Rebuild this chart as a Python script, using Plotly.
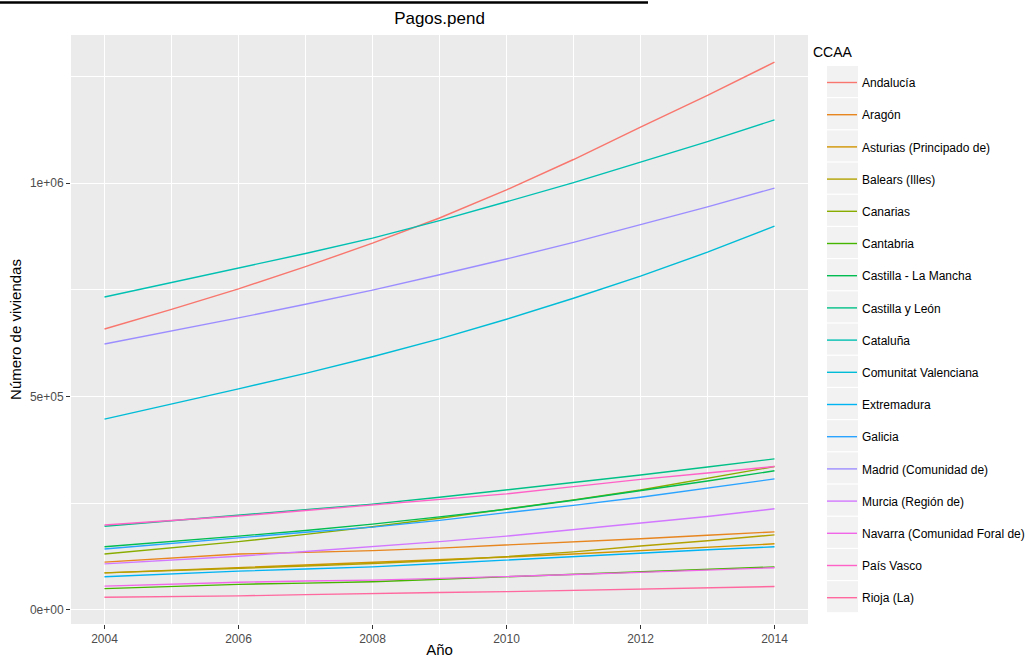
import math
import plotly.graph_objects as go

# Years on the x axis
years = list(range(2004, 2015))

# Outstanding payments (number of dwellings) by autonomous community
andalucia = [658000, 704000, 752000, 804000, 859000, 918000, 984000, 1055000, 1131000, 1205000, 1283000]
aragon = [112000, 122000, 131000, 135000, 139000, 145000, 152000, 159000, 167000, 175000, 183000]
asturias = [87000, 93000, 100000, 105000, 111000, 117000, 124000, 131000, 139000, 147000, 155000]
balears = [87000, 92000, 98000, 103000, 109000, 116000, 125000, 136000, 150000, 162000, 176000]
canarias = [131000, 145000, 160000, 177000, 195000, 215000, 236000, 258000, 281000, 308000, 336000]
cantabria = [50000, 55000, 60000, 63000, 66000, 72000, 78000, 83000, 89000, 95000, 101000]
castilla_la_mancha = [148000, 160000, 173000, 186000, 201000, 218000, 236000, 257000, 279000, 302000, 326000]
castilla_leon = [196000, 209000, 221000, 234000, 248000, 264000, 281000, 298000, 316000, 335000, 354000]
cataluna = [733000, 767000, 801000, 835000, 871000, 912000, 956000, 1001000, 1049000, 1097000, 1148000]
c_valenciana = [447000, 482000, 518000, 554000, 593000, 635000, 681000, 730000, 782000, 838000, 899000]
extremadura = [78000, 85000, 91000, 96000, 101000, 109000, 117000, 125000, 134000, 141000, 148000]
galicia = [143000, 156000, 170000, 182000, 194000, 210000, 228000, 245000, 264000, 285000, 307000]
madrid = [623000, 653000, 684000, 716000, 749000, 785000, 822000, 861000, 902000, 944000, 988000]
murcia = [108000, 117000, 126000, 137000, 148000, 160000, 173000, 188000, 203000, 219000, 237000]
navarra = [56000, 61000, 65000, 68000, 70000, 74000, 78000, 83000, 88000, 93000, 99000]
pais_vasco = [199000, 210000, 220000, 233000, 246000, 259000, 272000, 289000, 306000, 321000, 336000]
rioja = [30000, 31000, 33000, 36000, 39000, 41000, 43000, 46000, 49000, 52000, 55000]

regions = [
    "Andalucía", "Aragón", "Asturias (Principado de)", "Balears (Illes)", "Canarias",
    "Cantabria", "Castilla - La Mancha", "Castilla y León", "Cataluña",
    "Comunitat Valenciana", "Extremadura", "Galicia", "Madrid (Comunidad de)",
    "Murcia (Región de)", "Navarra (Comunidad Foral de)", "País Vasco", "Rioja (La)",
]
series = [
    andalucia, aragon, asturias, balears, canarias, cantabria, castilla_la_mancha,
    castilla_leon, cataluna, c_valenciana, extremadura, galicia, madrid, murcia,
    navarra, pais_vasco, rioja,
]

y_tickvals = [0, 500000, 1000000]
y_ticktext = ["0e+00", "5e+05", "1e+06"]
x_tickvals = [2004, 2006, 2008, 2010, 2012, 2014]


def hcl_hex(h, c=100.0, l=65.0):
    """Polar CIE-LUV to sRGB hex (same as R's hcl())."""
    hr = math.radians(h)
    u, v = c * math.cos(hr), c * math.sin(hr)
    xn, yn, zn = 95.047, 100.0, 108.883
    Y = yn * ((l + 16) / 116) ** 3 if l > 8 else yn * l / 903.3
    d = xn + 15 * yn + 3 * zn
    un, vn = 4 * xn / d, 9 * yn / d
    up, vp = u / (13 * l) + un, v / (13 * l) + vn
    X = 9.0 * Y * up / (4 * vp)
    Z = -X / 3 - 5 * Y + 3 * Y / vp
    X, Y, Z = X / 100, Y / 100, Z / 100
    rgb = [
        3.240479 * X - 1.537150 * Y - 0.498535 * Z,
        -0.969256 * X + 1.875992 * Y + 0.041556 * Z,
        0.055648 * X - 0.204043 * Y + 1.057311 * Z,
    ]
    out = []
    for ch in rgb:
        ch = 12.92 * ch if ch <= 0.0031308 else 1.055 * ch ** (1 / 2.4) - 0.055
        out.append(int(round(min(max(ch, 0), 1) * 255)))
    return "#%02X%02X%02X" % tuple(out)


n = len(regions)
palette = [hcl_hex(15 + 360 * i / n) for i in range(n)]

fig = go.Figure()
for i, (name, vals) in enumerate(zip(regions, series)):
    fig.add_trace(go.Scatter(
        x=years, y=vals, mode="lines", name=name,
        legendgroup=name,
        line=dict(color=palette[i], width=1.4),
    ))

FONT = "Liberation Sans, Arial, sans-serif"

# plot area in pixels
L, R, T, B = 71, 808, 35, 624
W, H = 1035, 658
pw, ph = R - L, B - T


def px_x(p):
    return (p - L) / pw


def px_y(p):
    return (B - p) / ph


shapes = []
# grey key backgrounds behind the legend entries
for i in range(n):
    shapes.append(dict(
        type="rect", xref="paper", yref="paper",
        x0=px_x(827), x1=px_x(858), y0=px_y(66 + 32.2 * i + 31), y1=px_y(66 + 32.2 * i),
        fillcolor="#F2F2F2", line=dict(width=0), layer="below",
    ))
# rule along the top edge
shapes.append(dict(
    type="line", xref="paper", yref="paper",
    x0=px_x(0), x1=px_x(648), y0=px_y(2.5), y1=px_y(2.5),
    line=dict(color="black", width=2.5),
))

fig.update_layout(
    width=W, height=H,
    margin=dict(l=L, r=W - R, t=T, b=H - B, pad=0, autoexpand=False),
    paper_bgcolor="white",
    plot_bgcolor="#EBEBEB",
    font=dict(family=FONT, color="#4D4D4D", size=12),
    title=dict(text="Pagos.pend", x=(L + R) / 2 / W, xanchor="center",
               y=1 - 18 / H, yanchor="middle",
               font=dict(family=FONT, size=17, color="black")),
    showlegend=True,
    legend=dict(
        x=px_x(822), xanchor="left", y=px_y(68), yanchor="top",
        bgcolor="rgba(0,0,0,0)", borderwidth=0,
        font=dict(family=FONT, size=12, color="black"),
        tracegroupgap=13.2, itemclick=False,
    ),
    annotations=[dict(
        text="CCAA", xref="paper", yref="paper", x=px_x(811), y=px_y(52),
        xanchor="left", yanchor="middle", showarrow=False,
        font=dict(family=FONT, size=14, color="black"),
    )],
    shapes=shapes,
    xaxis=dict(
        range=[2003.5, 2014.5], tickvals=x_tickvals, ticktext=[str(v) for v in x_tickvals],
        showgrid=True, gridcolor="white", gridwidth=1.1, zeroline=False,
        minor=dict(dtick=1, tick0=2004, showgrid=True, gridcolor="white", gridwidth=0.5),
        ticks="outside", ticklen=4, tickcolor="#333333", tickwidth=1,
        tickfont=dict(family=FONT, size=12, color="#4D4D4D"),
        title=dict(text="Año", standoff=8, font=dict(family=FONT, size=15, color="black")),
        showline=False, automargin=False,
    ),
    yaxis=dict(
        range=[-32800, 1346600], tickvals=y_tickvals, ticktext=y_ticktext,
        showgrid=True, gridcolor="white", gridwidth=1.1, zeroline=False,
        minor=dict(dtick=250000, tick0=0, showgrid=True, gridcolor="white", gridwidth=0.5),
        ticks="outside", ticklen=4, tickcolor="#333333", tickwidth=1,
        tickfont=dict(family=FONT, size=12, color="#4D4D4D"),
        title=dict(text="Número de viviendas", standoff=4,
                   font=dict(family=FONT, size=15, color="black")),
        showline=False, automargin=False,
    ),
)

fig.write_html("out.html")
